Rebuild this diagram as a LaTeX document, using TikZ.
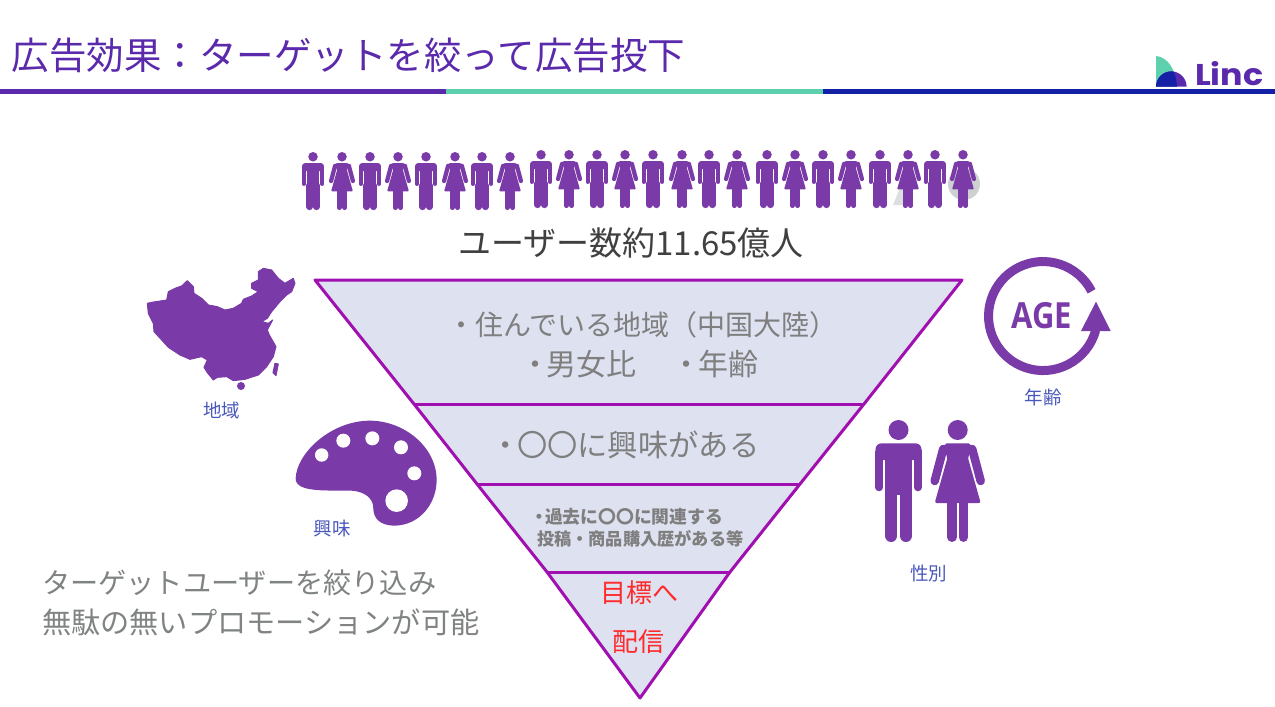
\documentclass[tikz,border=0pt]{standalone}
\usepackage{fontspec}
\setmainfont{Noto Sans CJK JP}
\newfontfamily\agefont{Open Sans}
\newfontfamily\lincfont{Poppins}
\definecolor{figpurple}{HTML}{7A3BA8}
\definecolor{titlepurple}{HTML}{5B2AAC}
\definecolor{rulegreen}{HTML}{5DD0AE}
\definecolor{ruleblue}{HTML}{1420A5}
\definecolor{funnelfill}{HTML}{DEE1F0}
\definecolor{funnelline}{HTML}{A010B0}
\definecolor{greytext}{HTML}{7F7F7F}
\definecolor{sidegrey}{HTML}{7F8381}
\definecolor{capblue}{HTML}{4A58BC}
\definecolor{darktext}{HTML}{404040}
\definecolor{redtext}{HTML}{FF2A2A}
\definecolor{ghostgrey}{HTML}{CDD1D1}
\newcommand{\fsz}[1]{\fontsize{#1}{#1}\selectfont}
\def\sc{1}
\tikzset{
  x=1pt,y=-1pt,
  txt/.style={inner sep=0pt,outer sep=0pt,anchor=center},
  caplabel/.style={txt,text=capblue,font=\fsz{18.5}},
  funneledge/.style={draw=funnelline,line width=3pt,line join=round},
  man/.pic={
    \fill[figpurple] (0,10) circle[radius=10];
    \fill[figpurple,rounded corners=\sc*6pt] (-23,40) -- (-23,23.3) -- (23,23.3) -- (23,40) -- cycle;
    \fill[figpurple] (-23,30) rectangle (23,38);
    \fill[figpurple] (-13.5,30) rectangle (13.5,75);
    \draw[figpurple,line width=\sc*7.5pt,line cap=round] (-19.3,32) -- (-19.3,67.5);
    \draw[figpurple,line width=\sc*7.5pt,line cap=round] (19.3,32) -- (19.3,67.5);
    \draw[figpurple,line width=\sc*12.4pt,line cap=round] (-7.3,70) -- (-7.3,115.8);
    \draw[figpurple,line width=\sc*12.4pt,line cap=round] (7.3,70) -- (7.3,115.8);
  },
  woman/.pic={
    \fill[figpurple] (0,10) circle[radius=10];
    \fill[figpurple,rounded corners=\sc*2pt] (-13,23.3) -- (13,23.3) -- (14,31) -- (10,37) -- (23,83) -- (-23,83) -- (-10,37) -- (-14,31) -- cycle;
    \draw[figpurple,line width=\sc*8.5pt,line cap=round] (-14.5,29) -- (-23,61);
    \draw[figpurple,line width=\sc*8.5pt,line cap=round] (14.5,29) -- (23,61);
    \draw[figpurple,line width=\sc*9.5pt,line cap=round] (-5.7,80) -- (-5.7,117.2);
    \draw[figpurple,line width=\sc*9.5pt,line cap=round] (5.7,80) -- (5.7,117.2);
  }
}
\begin{document}
\begin{tikzpicture}
\useasboundingbox (0,0) rectangle (1275,707);
\fill[white] (0,0) rectangle (1275,707);
% header
\node[txt,anchor=west,text=titlepurple,font=\fsz{37.5}] (title) at (12,55.5) {広告効果：ターゲットを絞って広告投下};
\fill[titlepurple] (0,89) rectangle (446,94);
\fill[rulegreen] (446,89) rectangle (823,94);
\fill[ruleblue] (823,89) rectangle (1275,94);
% logo
\fill[rulegreen] (1156,56) .. controls (1168,57) and (1176,70) .. (1177,86.7) -- (1156,86.7) -- cycle;
\fill[titlepurple] (1156,86.7) arc[start angle=180,end angle=360,radius=15.3] -- cycle;
\begin{scope}
  \clip (1156,86.7) arc[start angle=180,end angle=360,radius=15.3] -- cycle;
  \fill[ruleblue] (1156,56) .. controls (1168,57) and (1176,70) .. (1177,86.7) -- (1156,86.7) -- cycle;
\end{scope}
\node[txt,anchor=base west,text=titlepurple,font=\lincfont\bfseries\fsz{30},xscale=1.11] (linc) at (1195,85.5) {Linc};
% people
\fill[ghostgrey] (964,184) circle[radius=16];
\fill[ghostgrey!70] (893,205) -- (902,183) -- (907,205) -- cycle;
\def\sc{0.5}
\foreach \x/\y in {313/152,370/152,426/152,482/152,541/150,597/150,653/150,709/150,767/150,823/150,880/150,935/150}
  \pic[scale=0.475] at (\x,\y) {man};
\foreach \x/\y in {342/152,398/152,455/152,510/152,569/150,625/150,682/150,737/150,795/150,851/150,908/150,963/150}
  \pic[scale=0.475] at (\x,\y) {woman};
\def\sc{1}
\node[txt,text=darktext,font=\fsz{33}] (users) at (631,243) {ユーザー数約11.65億人};
% funnel
\fill[funnelfill] (315,280) -- (962,280) -- (864,404) -- (800,484) -- (730,572) -- (640,698) -- (547,572) -- (477,484) -- (414,404) -- cycle;
\draw[funneledge] (315,280) -- (962,280) -- (864,404) -- (800,484) -- (730,572) -- (640,698) -- (547,572) -- (477,484) -- (414,404) -- cycle;
\draw[funneledge] (414,404) -- (864,404);
\draw[funneledge] (477,484) -- (800,484);
\draw[funneledge] (547,572) -- (730,572);
\node[txt,anchor=west,text=greytext,font=\fsz{28}] (t1) at (447,325) {・住んでいる地域（中国大陸）};
\node[txt,anchor=west,text=greytext,font=\fsz{30}] (t2) at (520,364) {・\kern-4pt 男女比\kern36pt・\kern-4pt 年齢};
\node[txt,anchor=west,text=greytext,font=\fsz{30.3}] (t3) at (490.7,445) {・\kern-4pt 〇〇に興味がある};
\node[txt,anchor=west,text=greytext,font=\bfseries\fsz{17.8}] (t4) at (530,517) {・\kern-2.8pt 過去に〇〇に関連する};
\node[txt,anchor=west,text=greytext,font=\bfseries\fsz{17.2}] (t5) at (537,539) {投稿・商品購入歴がある等};
\node[txt,text=redtext,font=\fsz{26}] (t6) at (639,593) {目標へ};
\node[txt,text=redtext,font=\fsz{26}] (t7) at (638,642) {配信};
% side text
\node[txt,anchor=west,text=sidegrey,font=\fsz{28.2}] (s1) at (42,583) {ターゲットユーザーを絞り込み};
\node[txt,anchor=west,text=sidegrey,font=\fsz{29.2}] (s2) at (42,622) {無駄の無いプロモーションが可能};
% china
\begin{scope}[shift={(130,260)},x=0.3333pt,y=-0.3333pt]
\path[fill=figpurple,draw=figpurple,line width=1pt,line join=round] (52,130) -- (65,127) -- (110,120) -- (115,95) -- (135,85) -- (155,78) -- (172,62) -- (190,80) -- (192,100) -- (215,115) -- (235,135) -- (262,140) -- (285,150) -- (310,145) -- (335,130) -- (340,118) -- (365,108) -- (385,95) -- (365,85) -- (365,70) -- (385,60) -- (385,35) -- (400,25) -- (425,30) -- (445,55) -- (465,70) -- (490,55) -- (495,70) -- (485,95) -- (470,105) -- (450,125) -- (425,155) -- (412,175) -- (395,185) -- (415,190) -- (428,180) -- (412,210) -- (418,225) -- (438,260) -- (430,290) -- (410,320) -- (385,345) -- (345,358) -- (310,362) -- (290,350) -- (262,352) -- (250,360) -- (232,338) -- (222,322) -- (232,300) -- (215,290) -- (180,298) -- (150,285) -- (115,262) -- (95,240) -- (72,215) -- (70,190) -- (55,160) -- cycle;
\fill[figpurple] (333,378) circle[radius=12];
\path[fill=figpurple,draw=figpurple,line width=1pt,line join=round] (435,310) -- (445,312) -- (438,347) -- (429,338) -- cycle;
\end{scope}
\node[caplabel] (lregion) at (221.5,410) {地域};
% palette
\begin{scope}[shift={(280,410)},x=0.3333pt,y=-0.3333pt]
\fill[figpurple] (47,205) .. controls (50,130) and (150,35) .. (265,32) .. controls (370,30) and (470,110) .. (470,210) .. controls (470,280) and (420,345) .. (345,347) .. controls (300,347) and (280,325) .. (280,295) .. controls (280,265) and (255,245) .. (215,242) .. controls (150,240) and (45,250) .. (47,205) -- cycle;
\foreach \cx/\cy/\r in {125/135/6.7,190/92/7,277/85/7,363/112/7,403/190/7,350/272/11.3}
  \fill[white] (\cx,\cy) circle[radius=\r pt];
\end{scope}
\node[caplabel] (linterest) at (332,529) {興味};
% age
\draw[figpurple,line width=9pt] (1091.6,291.3) arc[start angle=-27,end angle=-345,radius=54.5];
\fill[figpurple] (1096,301.7) -- (1081,331) -- (1110.7,331) -- cycle;
\node[txt,text=figpurple,font=\agefont\bfseries\fsz{36},xscale=0.86] (age) at (1041.7,316) {AGE};
\node[caplabel] (lage) at (1043,397) {年齢};
% couple
\pic at (898.5,420) {man};
\pic at (957.7,420) {woman};
\node[caplabel] (lgender) at (928.5,573) {性別};
\end{tikzpicture}
\end{document}
